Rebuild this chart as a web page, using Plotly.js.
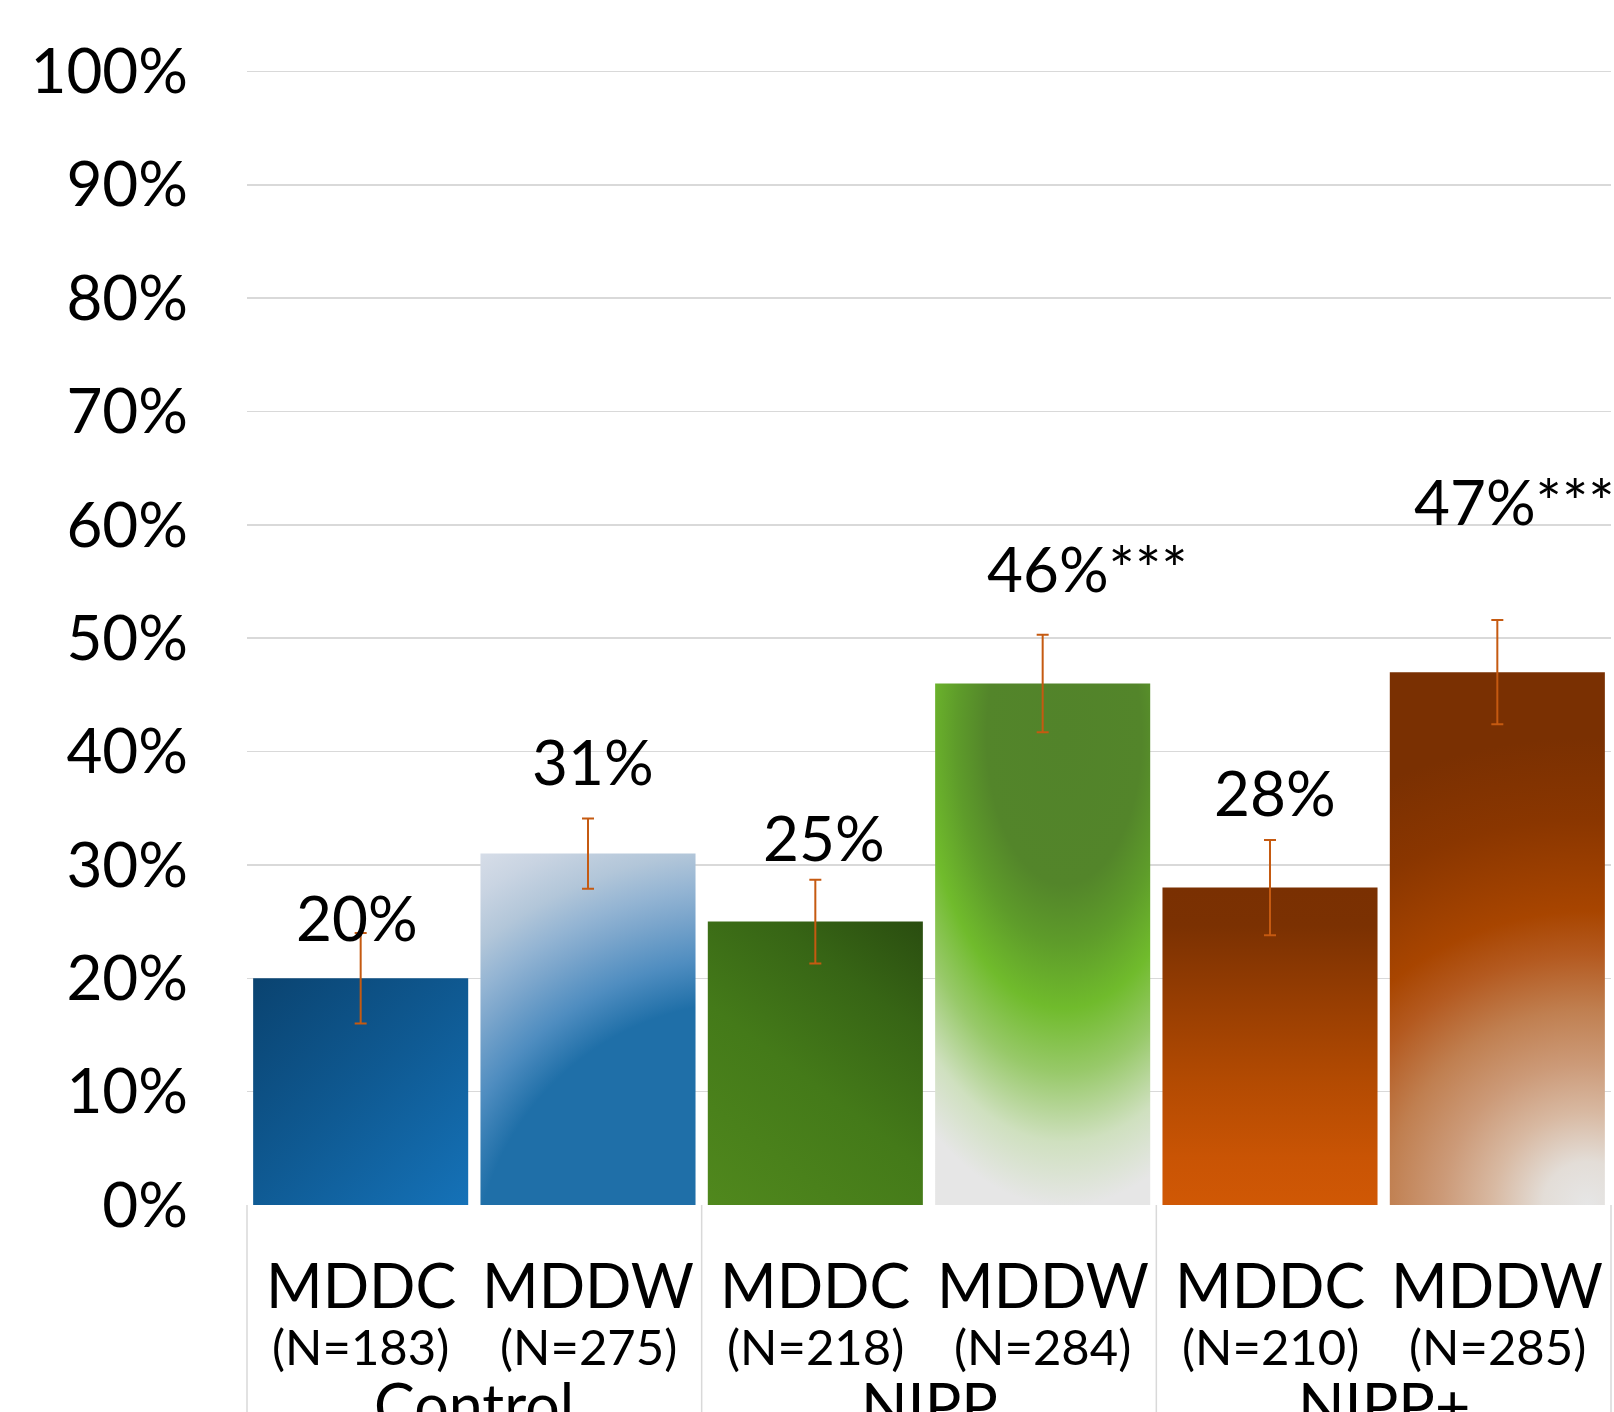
<!DOCTYPE html>
<html>
<head>
<meta charset="utf-8">
<script src="https://cdn.plot.ly/plotly-3.0.1.min.js"></script>
<style>
  html, body { margin: 0; padding: 0; background: #ffffff; }
  #chart { width: 1614px; height: 1412px; }
</style>
</head>
<body>
<div id="chart"></div>
<script>
// ---- data ----
const groups = ['Control', 'NIPP', 'NIPP+'];
const measures = ['MDDC', 'MDDW', 'MDDC', 'MDDW', 'MDDC', 'MDDW'];
const sampleSizes = [183, 275, 218, 284, 210, 285];
const percentValues = [20, 31, 25, 46, 28, 47];
const errorMargins = [4.0, 3.1, 3.7, 4.3, 4.2, 4.6];
const significance = ['', '', '', '***', '', '***'];
const yTickValues = [0, 10, 20, 30, 40, 50, 60, 70, 80, 90, 100];
const yTickLabels = yTickValues.map(v => v + '%');

// ---- styling ----
const FONT = '"Gill Sans MT", "Gill Sans", Lato, sans-serif';
const GRID = '#d9d9d9';
const ERR = '#c55a11';

// value-label placement (y in axis units, x offset in px)
const labelY = [25.4, 39.2, 32.5, 56.2, 36.4, 62.1];
const labelShift = [-4, 5, 9, 45, 5, 17];

// flat fallback colours for the bars
const baseColors = ['#0f5a93', '#6a9cc6', '#437718', '#5e9c2a', '#a84500', '#a84500'];

// gradient fills, geometry given as fractions of each bar's box
const barFills = [
  { type: 'linear', from: [0, 0], to: [1, 1],
    stops: [[0, '#0a4370'], [0.5, '#0f5a93'], [1, '#1572b8']] },
  { type: 'radial', center: [1.25, 1.2], radius: [2.37, 1.44],
    stops: [[0, '#1f6fa8'], [0.54, '#1f6fa8'], [0.63, '#4f8dc0'], [0.72, '#7ca6cc'], [0.77, '#93b4d3'], [0.84, '#b2c6d9'], [0.92, '#c9d4e2'], [1, '#d9dfe9']] },
  { type: 'linear', from: [0, 1], to: [1, 0],
    stops: [[0, '#50881d'], [0.45, '#447a19'], [0.75, '#376515'], [1, '#2a4d10']] },
  { type: 'radial', center: [0.6, 0.1], radius: [1.2, 0.95],
    stops: [[0, '#52832a'], [0.3, '#53852a'], [0.42, '#5e9c2a'], [0.55, '#70bb2c'], [0.68, '#98c96a'], [0.82, '#cfe0bf'], [0.95, '#e6e6e6'], [1, '#e6e6e6']] },
  { type: 'linear', from: [0, 0], to: [0, 1],
    stops: [[0, '#7a3002'], [0.12, '#7b3102'], [0.35, '#963d02'], [0.6, '#b24a02'], [0.85, '#c95404'], [1, '#d05805']] },
  { type: 'radial', center: [0.92, 1.0], radius: [2.6, 1.02],
    stops: [[0, '#e6e6e6'], [0.08, '#e3ddd7'], [0.17, '#d8b9a2'], [0.26, '#cc9a78'], [0.36, '#c07f50'], [0.46, '#b45a20'], [0.54, '#a84500'], [0.71, '#8a3600'], [0.86, '#7a3002'], [1, '#7a3002']] }
];

const xs = measures.map((_, i) => i);

const barTrace = {
  type: 'bar',
  x: xs,
  y: percentValues,
  marker: { color: baseColors, line: { width: 0 } },
  error_y: {
    type: 'data',
    array: errorMargins,
    visible: true,
    color: ERR,
    thickness: 2,
    width: 6
  },
  hoverinfo: 'skip'
};

const annotations = [];

// value labels above the bars
percentValues.forEach((v, i) => {
  annotations.push({
    x: i, y: labelY[i], xref: 'x', yref: 'y',
    text: v + '%' + significance[i],
    showarrow: false, xanchor: 'center', yanchor: 'middle',
    xshift: labelShift[i],
    font: { family: FONT, size: 62, color: '#000000' }
  });
});

// category labels under the axis
measures.forEach((m, i) => {
  annotations.push({
    x: i, y: 0, xref: 'x', yref: 'paper',
    text: m, showarrow: false, xanchor: 'center', yanchor: 'middle',
    yshift: -79,
    font: { family: FONT, size: 61, color: '#000000' }
  });
  annotations.push({
    x: i, y: 0, xref: 'x', yref: 'paper',
    text: '(N=' + sampleSizes[i] + ')', showarrow: false, xanchor: 'center', yanchor: 'middle',
    yshift: -141,
    font: { family: FONT, size: 49, color: '#000000' }
  });
});

// group labels
groups.forEach((g, k) => {
  annotations.push({
    x: 2 * k + 0.5, y: 0, xref: 'x', yref: 'paper',
    text: g, showarrow: false, xanchor: 'center', yanchor: 'middle',
    yshift: -199,
    font: { family: FONT, size: 61, color: '#000000' }
  });
});

// vertical dividers framing the category groups
const shapes = [];
for (let k = 0; k <= groups.length; k++) {
  shapes.push({
    type: 'line', xref: 'paper', yref: 'paper',
    x0: k / groups.length, x1: k / groups.length, y0: 0, y1: -0.3,
    line: { color: GRID, width: 1.5 }
  });
}

const layout = {
  width: 1614,
  height: 1412,
  margin: { l: 247, r: 3, t: 68, b: 207, pad: 0 },
  paper_bgcolor: '#ffffff',
  plot_bgcolor: '#ffffff',
  showlegend: false,
  bargap: 0.054,
  font: { family: FONT, color: '#000000' },
  xaxis: {
    range: [-0.5, 5.5],
    showticklabels: false,
    showgrid: false,
    zeroline: false,
    showline: false,
    ticks: '',
    fixedrange: true
  },
  yaxis: {
    range: [0, 100.3],
    tickvals: yTickValues,
    ticktext: yTickLabels,
    showgrid: true,
    gridcolor: GRID,
    gridwidth: 1.5,
    zeroline: false,
    showline: false,
    ticks: '',
    ticklabelstandoff: 58,
    tickfont: { family: FONT, size: 62, color: '#000000' },
    fixedrange: true
  },
  annotations: annotations,
  shapes: shapes
};

const gd = document.getElementById('chart');

// swap each bar's flat fill for its gradient, sized to the drawn bar
function applyGradients() {
  const NS = 'http://www.w3.org/2000/svg';
  const svg = gd.querySelector('svg.main-svg');
  let defs = svg.querySelector('defs');
  if (!defs) { defs = document.createElementNS(NS, 'defs'); svg.insertBefore(defs, svg.firstChild); }
  const paths = gd.querySelectorAll('.barlayer .point path');
  paths.forEach((p, i) => {
    const spec = barFills[i];
    if (!spec) return;
    const bb = p.getBBox();
    const id = 'barfill' + i;
    let g;
    if (spec.type === 'linear') {
      g = document.createElementNS(NS, 'linearGradient');
      g.setAttribute('x1', bb.x + spec.from[0] * bb.width);
      g.setAttribute('y1', bb.y + spec.from[1] * bb.height);
      g.setAttribute('x2', bb.x + spec.to[0] * bb.width);
      g.setAttribute('y2', bb.y + spec.to[1] * bb.height);
    } else {
      g = document.createElementNS(NS, 'radialGradient');
      g.setAttribute('cx', 0);
      g.setAttribute('cy', 0);
      g.setAttribute('r', 1);
      const cx = bb.x + spec.center[0] * bb.width;
      const cy = bb.y + spec.center[1] * bb.height;
      g.setAttribute('gradientTransform',
        'translate(' + cx + ',' + cy + ') scale(' + (spec.radius[0] * bb.width) + ',' + (spec.radius[1] * bb.height) + ')');
    }
    g.setAttribute('id', id);
    g.setAttribute('gradientUnits', 'userSpaceOnUse');
    spec.stops.forEach(s => {
      const st = document.createElementNS(NS, 'stop');
      st.setAttribute('offset', s[0]);
      st.setAttribute('stop-color', s[1]);
      g.appendChild(st);
    });
    defs.appendChild(g);
    p.style.fill = 'url(#' + id + ')';
    p.style.fillOpacity = 1;
  });
}

Plotly.newPlot(gd, [barTrace], layout, { displayModeBar: false, staticPlot: true, responsive: false })
  .then(applyGradients);
</script>
</body>
</html>
